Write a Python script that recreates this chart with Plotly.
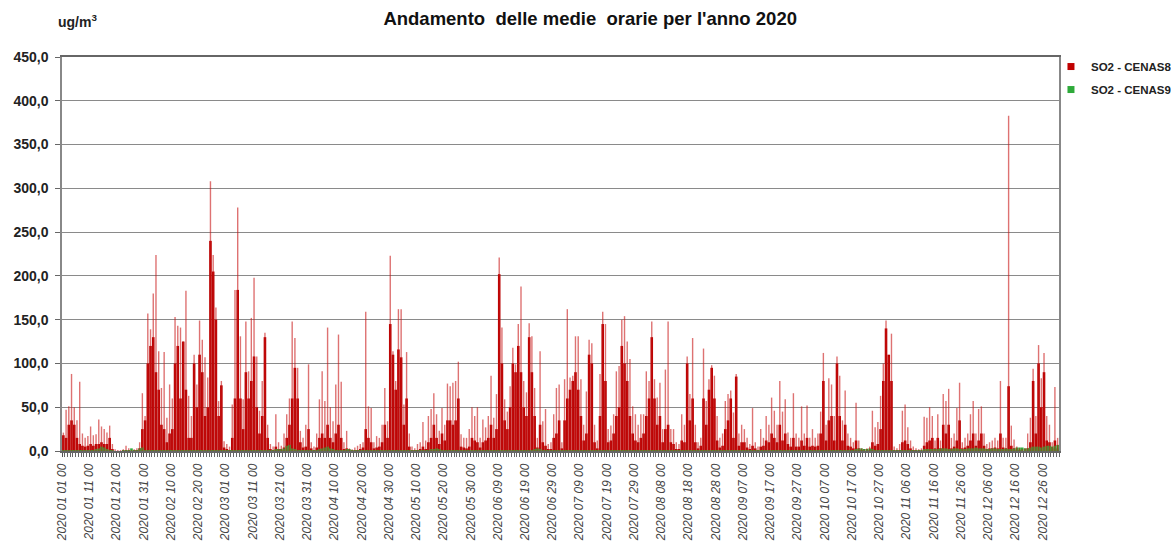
import pandas as pd
import plotly.graph_objects as go

# Daily summary of the hourly SO2 readings, year 2020 (ug/m3), one value per day.
# peak_cenas8: highest hourly value of the day; level_cenas8: bulk of the hourly values.
peak_cenas8 = [
    21, 47, 51, 88, 50, 35, 79, 20, 15, 17,
    28, 18, 19, 36, 28, 25, 21, 29, 8, 2,
    1, 1, 2, 6, 3, 1, 2, 3, 10, 66,
    40, 157, 139, 180, 224, 114, 72, 113, 38, 76,
    60, 153, 143, 141, 125, 183, 63, 40, 110, 76,
    149, 127, 107, 84, 308, 224, 164, 57, 80, 11,
    8, 5, 53, 184, 278, 131, 59, 148, 91, 152,
    198, 108, 46, 80, 135, 30, 8, 5, 42, 10,
    6, 20, 42, 60, 148, 129, 95, 23, 15, 30,
    99, 10, 5, 20, 59, 91, 57, 141, 50, 34,
    76, 133, 79, 10, 23, 3, 2, 4, 6, 8,
    10, 159, 51, 49, 10, 17, 15, 30, 72, 34,
    223, 114, 80, 162, 162, 53, 113, 20, 5, 3,
    8, 10, 33, 12, 40, 48, 66, 42, 23, 49,
    30, 77, 74, 78, 80, 102, 19, 15, 15, 25,
    50, 40, 50, 15, 36, 27, 40, 86, 38, 65,
    221, 141, 59, 45, 74, 118, 99, 145, 188, 80,
    67, 146, 131, 72, 15, 114, 34, 48, 8, 10,
    42, 72, 76, 10, 82, 162, 84, 86, 131, 131,
    82, 30, 68, 127, 123, 30, 12, 88, 159, 145,
    25, 29, 42, 91, 97, 150, 154, 125, 105, 51,
    42, 30, 42, 42, 91, 80, 148, 82, 61, 78,
    25, 93, 148, 25, 25, 10, 8, 42, 30, 108,
    65, 129, 30, 10, 15, 117, 57, 82, 98, 86,
    40, 15, 20, 57, 65, 69, 44, 88, 20, 30,
    25, 15, 8, 49, 10, 5, 25, 15, 40, 30,
    61, 46, 30, 80, 45, 59, 21, 15, 66, 20,
    15, 51, 20, 52, 15, 25, 15, 20, 45, 112,
    30, 83, 76, 40, 108, 86, 35, 69, 20, 15,
    10, 55, 12, 3, 2, 3, 5, 46, 27, 33,
    63, 100, 149, 108, 134, 5, 3, 8, 46, 53,
    27, 12, 5, 3, 2, 3, 39, 38, 50, 40,
    12, 42, 12, 65, 57, 71, 15, 20, 49, 78,
    10, 15, 20, 42, 57, 20, 48, 51, 20, 8,
    10, 12, 15, 12, 80, 15, 15, 383, 29, 13,
    5, 3, 2, 3, 20, 38, 94, 40, 121, 83,
    112, 40, 30, 10, 73, 15,
]

level_cenas8 = [
    18, 15, 30, 35, 30, 15, 8, 6, 5, 6,
    8, 6, 8, 8, 10, 8, 8, 15, 2, 0,
    0, 0, 0, 1, 0, 0, 1, 1, 3, 25,
    35, 100, 120, 130, 90, 70, 30, 25, 10, 20,
    25, 100, 120, 60, 125, 70, 15, 15, 100, 50,
    110, 90, 40, 50, 240, 205, 150, 40, 75, 4,
    2, 1, 15, 60, 184, 60, 25, 90, 60, 80,
    108, 50, 20, 40, 130, 15, 2, 1, 5, 2,
    1, 4, 15, 30, 60, 95, 60, 10, 4, 5,
    25, 3, 1, 4, 15, 20, 15, 30, 15, 10,
    20, 30, 15, 2, 3, 1, 0, 1, 1, 2,
    4, 25, 15, 10, 3, 4, 5, 10, 30, 15,
    145, 110, 70, 116, 107, 30, 60, 5, 1, 1,
    1, 2, 5, 2, 10, 15, 30, 15, 8, 20,
    12, 35, 35, 30, 35, 60, 5, 4, 3, 5,
    15, 12, 10, 4, 10, 12, 15, 30, 15, 25,
    202, 100, 35, 25, 50, 100, 90, 120, 90, 50,
    40, 130, 90, 40, 4, 30, 10, 6, 2, 2,
    15, 20, 35, 3, 35, 60, 70, 80, 90, 70,
    40, 12, 20, 110, 100, 10, 3, 40, 145, 80,
    10, 12, 20, 40, 50, 120, 100, 80, 40, 20,
    12, 10, 15, 20, 40, 60, 130, 60, 30, 40,
    10, 25, 30, 10, 8, 2, 2, 12, 10, 100,
    35, 60, 10, 3, 6, 60, 30, 70, 95, 60,
    12, 4, 6, 25, 35, 60, 15, 85, 6, 10,
    10, 4, 2, 6, 3, 1, 5, 6, 12, 10,
    20, 15, 10, 30, 12, 20, 8, 5, 15, 5,
    5, 12, 6, 15, 5, 6, 5, 6, 20, 80,
    12, 35, 40, 12, 100, 40, 12, 30, 6, 5,
    3, 12, 3, 1, 0, 0, 1, 10, 6, 8,
    25, 80, 140, 110, 80, 1, 0, 1, 10, 12,
    8, 3, 1, 1, 0, 0, 6, 10, 12, 15,
    3, 15, 3, 30, 20, 30, 3, 5, 12, 35,
    3, 4, 6, 12, 20, 6, 12, 20, 6, 2,
    3, 3, 4, 3, 20, 4, 3, 74, 6, 3,
    1, 1, 0, 0, 3, 10, 80, 20, 100, 50,
    90, 12, 10, 3, 12, 3,
]

level_cenas9 = [
    1, 1, 1, 1, 1, 1, 1, 1, 1, 1,
    1, 1, 2, 3, 5, 4, 2, 1, 1, 0,
    0, 0, 1, 1, 1, 3, 1, 1, 3, 4,
    1, 1, 1, 1, 1, 1, 1, 1, 1, 1,
    1, 1, 1, 1, 1, 1, 1, 1, 1, 1,
    1, 1, 1, 1, 1, 1, 1, 1, 1, 1,
    1, 1, 1, 1, 1, 1, 1, 1, 1, 1,
    1, 1, 1, 1, 1, 1, 1, 1, 2, 2,
    2, 3, 6, 7, 3, 2, 1, 1, 1, 1,
    1, 1, 1, 1, 2, 3, 4, 5, 3, 2,
    1, 1, 1, 1, 2, 2, 1, 1, 1, 1,
    1, 1, 1, 1, 1, 1, 1, 1, 1, 1,
    1, 1, 1, 1, 1, 1, 1, 1, 1, 1,
    1, 1, 1, 1, 1, 2, 2, 3, 2, 1,
    1, 1, 1, 1, 1, 1, 1, 1, 1, 1,
    1, 1, 1, 1, 1, 1, 1, 1, 1, 1,
    1, 1, 1, 1, 1, 1, 1, 1, 1, 1,
    1, 1, 1, 2, 3, 2, 1, 1, 1, 1,
    1, 1, 1, 1, 1, 1, 1, 1, 1, 1,
    1, 1, 1, 1, 1, 1, 1, 1, 1, 1,
    1, 1, 1, 1, 1, 1, 1, 1, 1, 1,
    1, 1, 1, 1, 1, 1, 1, 1, 1, 1,
    1, 1, 1, 1, 1, 1, 1, 1, 1, 1,
    1, 1, 1, 1, 1, 1, 1, 1, 1, 1,
    1, 1, 1, 1, 1, 1, 1, 1, 1, 1,
    1, 1, 1, 1, 1, 1, 1, 1, 1, 1,
    1, 1, 1, 1, 1, 1, 1, 1, 1, 1,
    1, 1, 1, 1, 1, 1, 1, 1, 1, 1,
    1, 1, 1, 1, 1, 1, 1, 1, 1, 1,
    1, 2, 3, 3, 2, 2, 3, 2, 1, 1,
    1, 1, 1, 1, 1, 1, 1, 1, 1, 1,
    1, 1, 1, 1, 1, 1, 2, 2, 2, 2,
    2, 2, 3, 3, 3, 2, 2, 3, 3, 2,
    2, 2, 3, 3, 3, 4, 3, 3, 3, 2,
    2, 3, 3, 2, 2, 2, 3, 2, 2, 3,
    4, 4, 4, 3, 3, 4, 5, 5, 5, 4,
    5, 6, 6, 5, 6, 7,
]

series_names = ["SO2 - CENAS8", "SO2 - CENAS9"]
title_text = "Andamento  delle medie  orarie per l'anno 2020"
unit_text = "ug/m<sup>3</sup>"

DAY_MS = 86400000
days = pd.date_range("2020-01-01", periods=len(peak_cenas8), freq="D")
noon = days + pd.Timedelta(hours=12)

RED = "#B80000"
GREEN = "#2EAA3A"
FONT = "Arial, Liberation Sans, sans-serif"

# thin vertical sticks for the daily hourly peaks
stick_x, stick_y = [], []
for t, v in zip(noon, peak_cenas8):
    stick_x += [t, t, None]
    stick_y += [0, v, None]

fig = go.Figure()
fig.add_trace(go.Scatter(
    x=stick_x, y=stick_y, mode="lines",
    line=dict(color="rgba(200,20,20,0.6)", width=1.4),
    showlegend=False, hoverinfo="skip",
))
fig.add_trace(go.Bar(
    x=noon, y=level_cenas8, width=0.95 * DAY_MS,
    marker=dict(color=RED, line=dict(width=0)),
    showlegend=False, name=series_names[0],
))
fig.add_trace(go.Bar(
    x=noon, y=level_cenas9, width=0.95 * DAY_MS,
    marker=dict(color=GREEN, line=dict(width=0)),
    showlegend=False, name=series_names[1],
))
# legend entries with small square swatches
for name, col, grp in [(series_names[0], "#C00000", "a"), (series_names[1], GREEN, "b")]:
    fig.add_trace(go.Scatter(
        x=[None], y=[None], mode="markers", name=name, legendgroup=grp,
        marker=dict(symbol="square", size=7, color=col),
    ))

fig.update_layout(
    width=1171, height=542,
    margin=dict(l=62, r=112, t=57, b=91, autoexpand=False),
    paper_bgcolor="white", plot_bgcolor="white",
    barmode="overlay",
    separators=",.",
    font=dict(family=FONT, color="#222"),
    title=dict(
        text="<b>" + title_text + "</b>",
        x=0.504, xref="container", xanchor="center",
        y=0.965, yref="container", yanchor="middle",
        font=dict(size=18.5, color="#111"),
    ),
    legend=dict(
        x=0.8975, xref="container", xanchor="left",
        y=0.904, yref="container", yanchor="top",
        traceorder="grouped", tracegroupgap=4,
        font=dict(size=11.5, color="#222", weight="bold"),
        itemwidth=30, bgcolor="rgba(0,0,0,0)",
    ),
    annotations=[dict(
        text="<b>" + unit_text + "</b>", xref="paper", yref="paper",
        x=-0.006, y=1.092, xanchor="left", yanchor="middle",
        showarrow=False, font=dict(size=14, color="#222"),
    )],
)

fig.update_xaxes(
    type="date",
    range=["2020-01-01", "2021-01-01"],
    tick0="2020-01-01", dtick=10 * DAY_MS,
    tickformat="%Y %m %d %H", tickangle=-90,
    tickfont=dict(size=12, color="#444", style="italic", family=FONT),
    ticks="outside", ticklen=4, tickcolor="#555",
    ticklabelstandoff=2,
    minor=dict(dtick=DAY_MS, ticks="outside", ticklen=4, tickcolor="#666", showgrid=False),
    showgrid=False, showline=True, linecolor="#666", linewidth=1.5, mirror=True,
    zeroline=False, automargin=False,
)
fig.update_yaxes(
    range=[0, 450], dtick=50, tickformat=".1f",
    tickfont=dict(size=14, color="#222", weight="bold", family=FONT),
    ticks="outside", ticklen=5, tickcolor="#666",
    ticklabelstandoff=4,
    showgrid=True, gridcolor="#8a8a8a", gridwidth=1.3,
    showline=True, linecolor="#888", linewidth=1.5, mirror=True,
    zeroline=False, automargin=False,
)

fig.write_html("out.html")
